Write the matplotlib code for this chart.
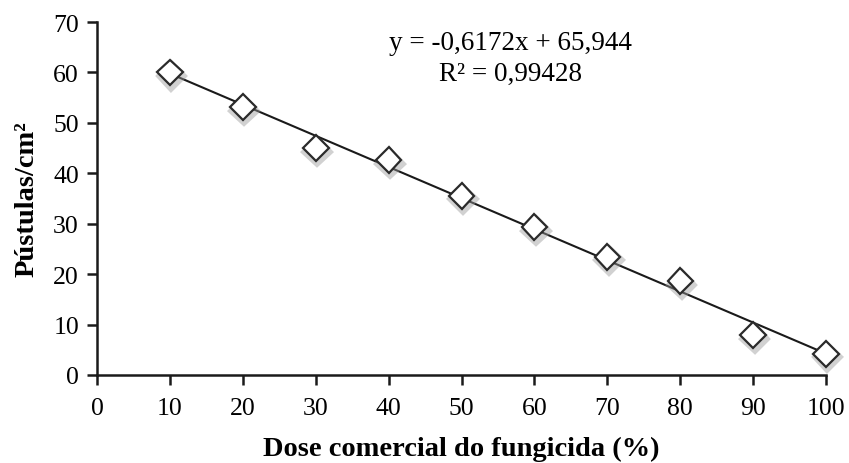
import numpy as np
import matplotlib.pyplot as plt
import matplotlib.patheffects as pe

plt.rcParams['font.family'] = ['Liberation Serif', 'DejaVu Serif']

# Pustule counts for each fungicide dose
dose = np.array([10, 20, 30, 40, 50, 60, 70, 80, 90, 100])
pustulas = np.array([60.0, 53.1, 45.0, 42.6, 35.5, 29.3, 23.4, 18.6, 7.9, 4.2])

# Linear trend reported on the chart
slope = -0.6172
intercept = 65.944
r2 = 0.99428

fig = plt.figure(figsize=(8.49, 4.64), dpi=100)
ax = fig.add_axes([0.1143, 0.1897, 0.8587, 0.7607])

# trend line over the measured range
xt = np.array([dose.min(), dose.max()])
ax.plot(xt, slope * xt + intercept, color="#1a1a1a", lw=1.5, zorder=2)

# diamond markers with a soft drop shadow
ax.plot(dose, pustulas, linestyle="none", marker="D", markersize=13,
        markerfacecolor="white", markeredgecolor="#2a2a2a", markeredgewidth=1.6,
        zorder=3, clip_on=False,
        path_effects=[pe.SimpleLineShadow(offset=(1, -2.5), shadow_color="0.6",
                                          alpha=0.45, linewidth=4),
                      pe.Normal()])

ax.set_xlim(0, 100)
ax.set_ylim(0, 70)
ax.set_xticks(np.arange(0, 101, 10))
ax.set_yticks(np.arange(0, 71, 10))

for side in ["top", "right"]:
    ax.spines[side].set_visible(False)
for side in ["left", "bottom"]:
    ax.spines[side].set_linewidth(1.8)
    ax.spines[side].set_color("#1a1a1a")
ax.tick_params(direction="out", length=7, width=1.8, color="#1a1a1a",
               labelsize=18.5, pad=6)
ax.tick_params(axis="x", pad=9)

# equation and R² label
eq = "y = -{:.4f}x + {:.3f}".format(-slope, intercept).replace(".", ",")
rtxt = "R² = {:.5f}".format(r2).replace(".", ",")
ax.text(56.7, 66.0, eq, ha="center", va="center", fontsize=19.5)
ax.text(56.7, 59.9, rtxt, ha="center", va="center", fontsize=19.5)

ax.set_xlabel("Dose comercial do fungicida (%)", fontsize=20.5, fontweight="bold",
              labelpad=12)
ax.set_ylabel("Pústulas/cm²", fontsize=20.5, fontweight="bold", labelpad=10)

fig.savefig("out.png", dpi=100)
